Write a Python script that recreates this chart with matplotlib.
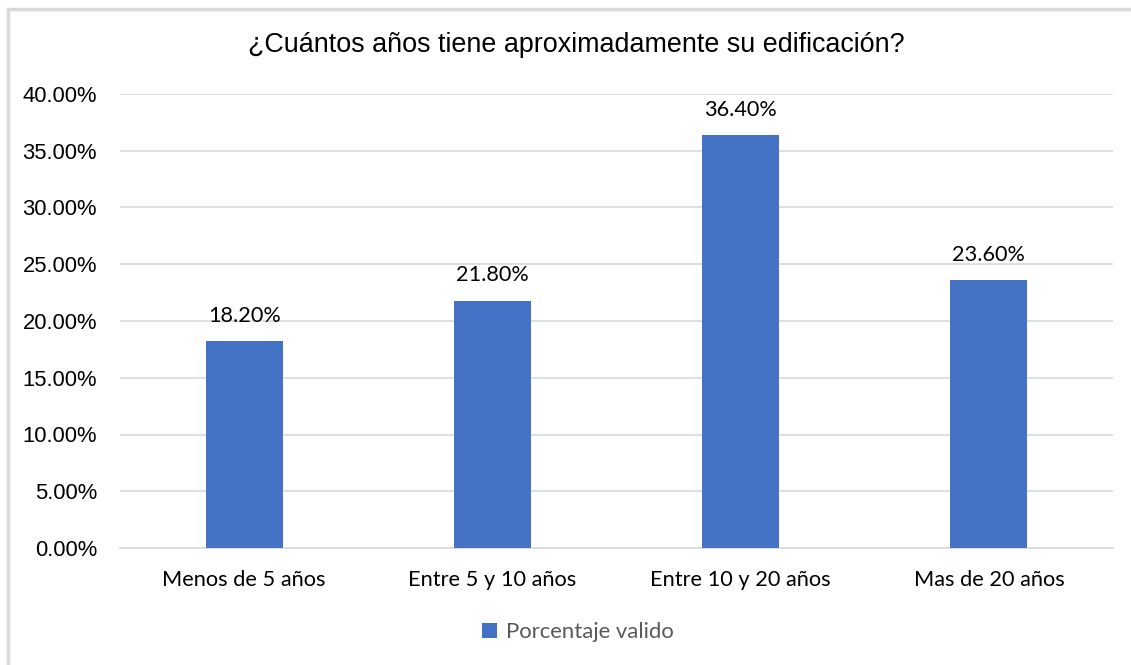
import matplotlib.pyplot as plt
from matplotlib.patches import Rectangle

categories = ['Menos de 5 años', 'Entre 5 y 10 años', 'Entre 10 y 20 años', 'Mas de 20 años']
porcentaje = [18.20, 21.80, 36.40, 23.60]
y_ticks = [0, 5, 10, 15, 20, 25, 30, 35, 40]
titulo = '¿Cuántos años tiene aproximadamente su edificación?'
serie = 'Porcentaje valido'

BAR_COLOR = '#4472C4'
GRID_COLOR = '#D9D9D9'
ARIAL = 'Liberation Sans'
CALIBRI = ['Lato', 'DejaVu Sans']

W, H = 1131, 665
fig = plt.figure(figsize=(W / 100, H / 100), dpi=100)
ax = fig.add_axes([120 / W, 1 - 548 / H, (1113 - 120) / W, (548 - 94) / H])

x = range(len(categories))
bars = ax.bar(x, porcentaje, width=0.31, color=BAR_COLOR, zorder=3, label=serie)

for b, v in zip(bars, porcentaje):
    ax.annotate(f'{v:.2f}%', (b.get_x() + b.get_width() / 2, v),
                xytext=(0, 11), textcoords='offset points', ha='center', va='bottom',
                fontsize=15.6, family=CALIBRI, color='#000000')

ax.set_xlim(-0.5, len(categories) - 0.5)
ax.set_ylim(0, 40)
ax.set_yticks(y_ticks)
ax.set_yticklabels([f'{t:.2f}%' for t in y_ticks], family=ARIAL, fontsize=15.8)
ax.set_xticks(list(x))
ax.set_xticklabels(categories, family=CALIBRI, fontsize=15.7)
ax.tick_params(axis='both', length=0, colors='#000000')
ax.tick_params(axis='y', pad=16.5)
ax.tick_params(axis='x', pad=16)

ax.grid(axis='y', color=GRID_COLOR, linewidth=1.2, zorder=0)
for s in ['top', 'right', 'left']:
    ax.spines[s].set_visible(False)
ax.spines['bottom'].set_color(GRID_COLOR)
ax.spines['bottom'].set_linewidth(1.2)

fig.text(576 / W, 1 - 45 / H, titulo, ha='center', va='center',
         family=ARIAL, fontsize=19.4, color='#000000')

leg = fig.legend(handles=[bars], labels=[serie], loc='center',
                 bbox_to_anchor=(578 / W, 1 - 632 / H), frameon=False,
                 prop={'family': CALIBRI, 'size': 15.9},
                 handlelength=0.65, handleheight=0.65, handletextpad=0.4)
for t in leg.get_texts():
    t.set_color('#595959')

# chart frame
fig.patches.append(Rectangle((8 / W, -0.1), 1.2, 1.1 - 9 / H,
                             transform=fig.transFigure, fill=False,
                             edgecolor=GRID_COLOR, linewidth=2.5))

fig.savefig('out.png', dpi=100)
